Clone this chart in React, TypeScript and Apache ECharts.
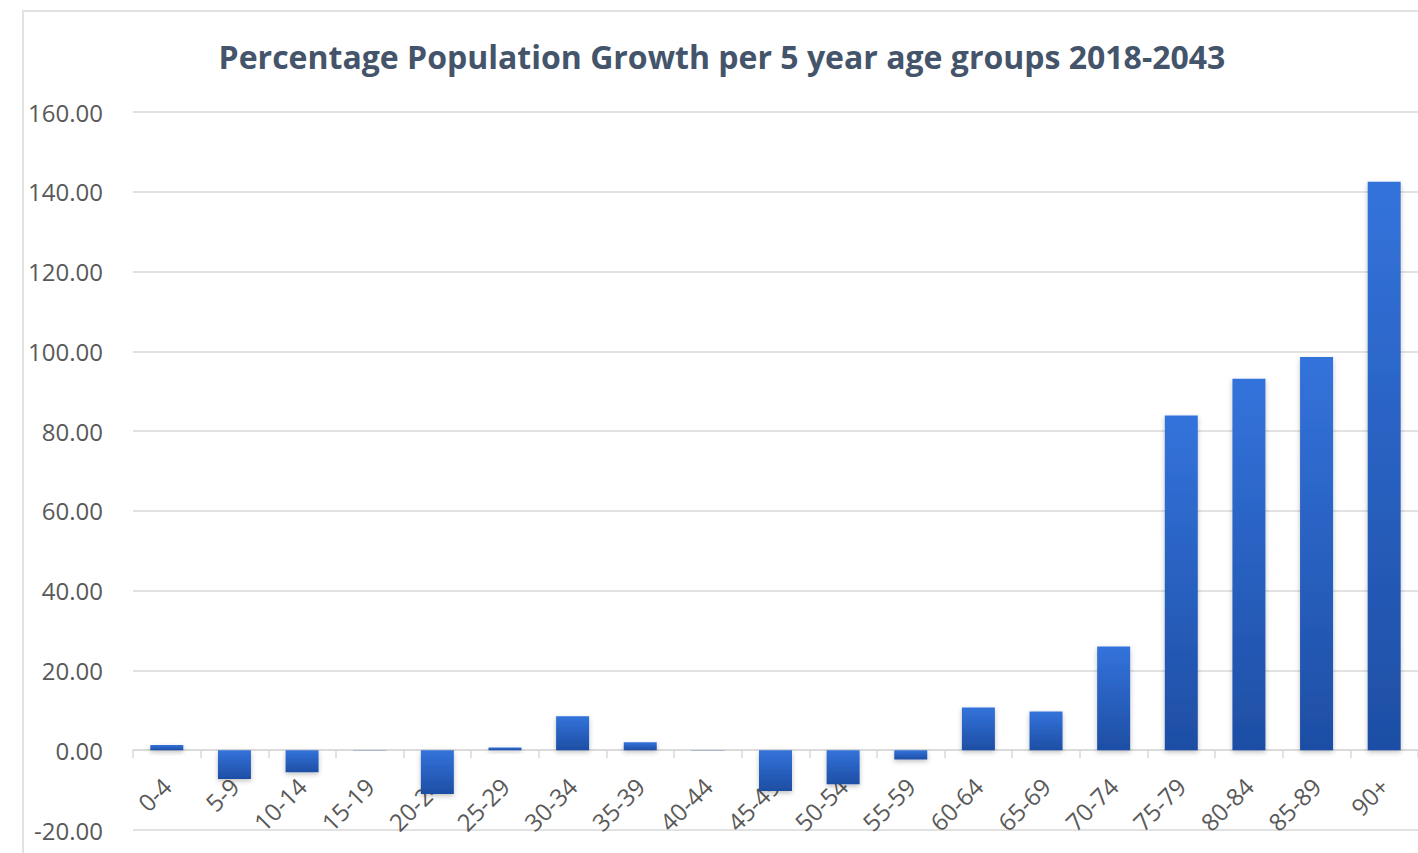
import React, { useEffect, useRef } from "react";
import * as echarts from "echarts";

const categories = ["0-4", "5-9", "10-14", "15-19", "20-24", "25-29", "30-34", "35-39", "40-44", "45-49", "50-54", "55-59", "60-64", "65-69", "70-74", "75-79", "80-84", "85-89", "90+"];
const growth = [1.3, -7.2, -5.5, -0.1, -11.0, 0.7, 8.5, 2.0, -0.1, -10.2, -8.5, -2.3, 10.7, 9.7, 26.0, 83.9, 93.1, 98.6, 142.5];
const yMin = -20;
const yMax = 160;
const yInterval = 20;
const titleText = "Percentage Population Growth per 5 year age groups 2018-2043";

export default function App() {
  const ref = useRef<HTMLDivElement>(null);
  useEffect(() => {
    if (!ref.current) return;
    const chart = echarts.init(ref.current, undefined, { renderer: "svg" });
    const font = "'Open Sans', sans-serif";
    const gridTop = 112;
    const gridBottom = 23;
    const plotH = 853 - gridTop - gridBottom;
    const zeroOffset = -Math.round((plotH * (0 - yMin)) / (yMax - yMin));
    chart.setOption({
      animation: false,
      backgroundColor: "#ffffff",
      title: {
        text: titleText,
        left: 717,
        top: 35,
        textAlign: "center",
        textStyle: { fontFamily: font, fontSize: 32, fontWeight: "bold", color: "#44546a" },
      },
      graphic: [
        {
          type: "rect",
          shape: { x: 23, y: 11, width: 1420, height: 860 },
          style: { fill: "none", stroke: "#e2e2e2", lineWidth: 2 },
          silent: true,
          z: -10,
        },
      ],
      grid: { left: 133, right: 0, top: gridTop, bottom: gridBottom, containLabel: false, outerBoundsMode: "none" },
      xAxis: [
        {
          type: "category",
          data: categories,
          axisLine: { onZero: true, lineStyle: { color: "#d9d9d9", width: 1.5 } },
          axisTick: { show: true, length: 8, lineStyle: { color: "#d9d9d9", width: 1.5 } },
          axisLabel: { show: false },
        },
        {
          type: "category",
          data: categories,
          position: "bottom",
          offset: zeroOffset,
          axisLine: { show: false, onZero: false },
          axisTick: { show: false },
          splitLine: { show: false },
          axisLabel: { rotate: 45, margin: 32, fontFamily: font, fontSize: 24, color: "#595959" },
          z: 0,
        },
      ],
      yAxis: {
        type: "value",
        min: yMin,
        max: yMax,
        interval: yInterval,
        axisLine: { show: false },
        axisTick: { show: false },
        splitLine: { lineStyle: { color: "#d9d9d9", width: 1.5 } },
        axisLabel: {
          margin: 30,
          fontFamily: font,
          fontSize: 24,
          color: "#595959",
          formatter: (v: number) => v.toFixed(2),
        },
      },
      series: [
        {
          type: "bar",
          data: growth,
          barWidth: 33,
          z: 5,
          itemStyle: {
            color: new echarts.graphic.LinearGradient(0, 0, 0, 1, [
              { offset: 0, color: "#3373db" },
              { offset: 1, color: "#1e4ea4" },
            ]),
            shadowBlur: 5,
            shadowColor: "rgba(0,0,0,0.25)",
            shadowOffsetY: 2,
          },
        },
      ],
    });
    return () => chart.dispose();
  }, []);
  return <div ref={ref} style={{ position: "fixed", left: 0, top: 0, width: 1418, height: 853 }} />;
}
